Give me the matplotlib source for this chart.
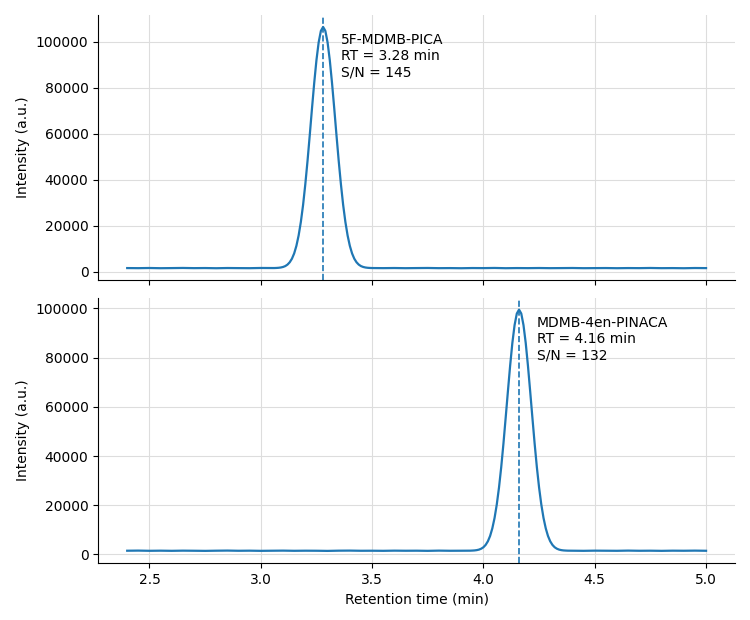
import numpy as np
import matplotlib.pyplot as plt

# compound info
names = ["5F-MDMB-PICA", "MDMB-4en-PINACA"]
rts = [3.28, 4.16]
snr = [145, 132]

# top trace (5F-MDMB-PICA): baseline at 0.05 min, peak region at 0.01 min
top_left_t = np.round(np.arange(2.40, 3.001, 0.05), 2)
top_left_y = [1520, 1480, 1550, 1460, 1510, 1570, 1490, 1530, 1450, 1540, 1500, 1470, 1560]
top_peak_t = np.round(np.arange(3.06, 3.501, 0.01), 2)
top_peak_y = [1530, 1570, 1640, 1770, 2000, 2380, 3030, 4050, 5600, 7900,
              11200, 15700, 21600, 29000, 38000, 48200, 59400, 71000, 82100,
              92000, 99800, 104800, 106500, 104800, 99800, 92000, 82100, 71000,
              59400, 48200, 38000, 29000, 21600, 15700, 11200, 7900, 5600,
              4050, 3030, 2380, 2000, 1770, 1640, 1570, 1530]
top_right_t = np.round(np.arange(3.55, 5.001, 0.05), 2)
top_right_y = [1490, 1540, 1470, 1520, 1560, 1480, 1510, 1450, 1530, 1500,
               1570, 1460, 1520, 1490, 1540, 1480, 1510, 1550, 1470, 1500,
               1530, 1460, 1520, 1490, 1560, 1480, 1510, 1450, 1540, 1500]

# bottom trace (MDMB-4en-PINACA)
bot_left_t = np.round(np.arange(2.40, 3.901, 0.05), 2)
bot_left_y = [1510, 1560, 1480, 1530, 1470, 1540, 1500, 1450, 1520, 1570,
              1490, 1530, 1460, 1510, 1550, 1480, 1520, 1500, 1440, 1530,
              1560, 1490, 1510, 1470, 1540, 1500, 1520, 1460, 1550, 1490, 1510]
bot_peak_t = np.round(np.arange(3.94, 4.381, 0.01), 2)
bot_peak_y = [1530, 1570, 1630, 1750, 1960, 2330, 2920, 3880, 5340, 7500,
              10600, 14800, 20300, 27200, 35500, 45100, 55600, 66300, 76700,
              85950, 93200, 97900, 99500, 97900, 93200, 85950, 76700, 66300,
              55600, 45100, 35500, 27200, 20300, 14800, 10600, 7500, 5340,
              3880, 2920, 2330, 1960, 1750, 1630, 1570, 1530]
bot_right_t = np.round(np.arange(4.45, 5.001, 0.05), 2)
bot_right_y = [1470, 1540, 1510, 1480, 1560, 1490, 1520, 1460, 1530, 1500, 1550, 1490]

traces = [
    (np.concatenate([top_left_t, top_peak_t, top_right_t]),
     np.concatenate([top_left_y, top_peak_y, top_right_y])),
    (np.concatenate([bot_left_t, bot_peak_t, bot_right_t]),
     np.concatenate([bot_left_y, bot_peak_y, bot_right_y])),
]
label_y = [104000, 97000]

color = "#1f77b4"

fig, axes = plt.subplots(2, 1, figsize=(7.5, 6.2), dpi=100, sharex=True)
fig.subplots_adjust(left=0.131, right=0.98, top=0.976, bottom=0.092, hspace=0.065)

for i, ax in enumerate(axes):
    t, y = traces[i]
    ax.plot(t, y, color=color, lw=1.6)
    ax.axvline(rts[i], color=color, lw=1.2, ls="--")
    ax.text(rts[i] + 0.08, label_y[i],
            f"{names[i]}\nRT = {rts[i]:.2f} min\nS/N = {snr[i]}",
            va="top", ha="left", fontsize=10)
    ax.set_ylabel("Intensity (a.u.)", fontsize=10)
    ax.grid(True, color="#dddddd", lw=0.8)
    ax.set_axisbelow(True)
    ax.spines["top"].set_visible(False)
    ax.spines["right"].set_visible(False)
    ax.set_yticks([0, 20000, 40000, 60000, 80000, 100000])
    ax.tick_params(labelsize=10)

axes[1].set_xlabel("Retention time (min)", fontsize=10)

plt.savefig("out.png", dpi=100)
